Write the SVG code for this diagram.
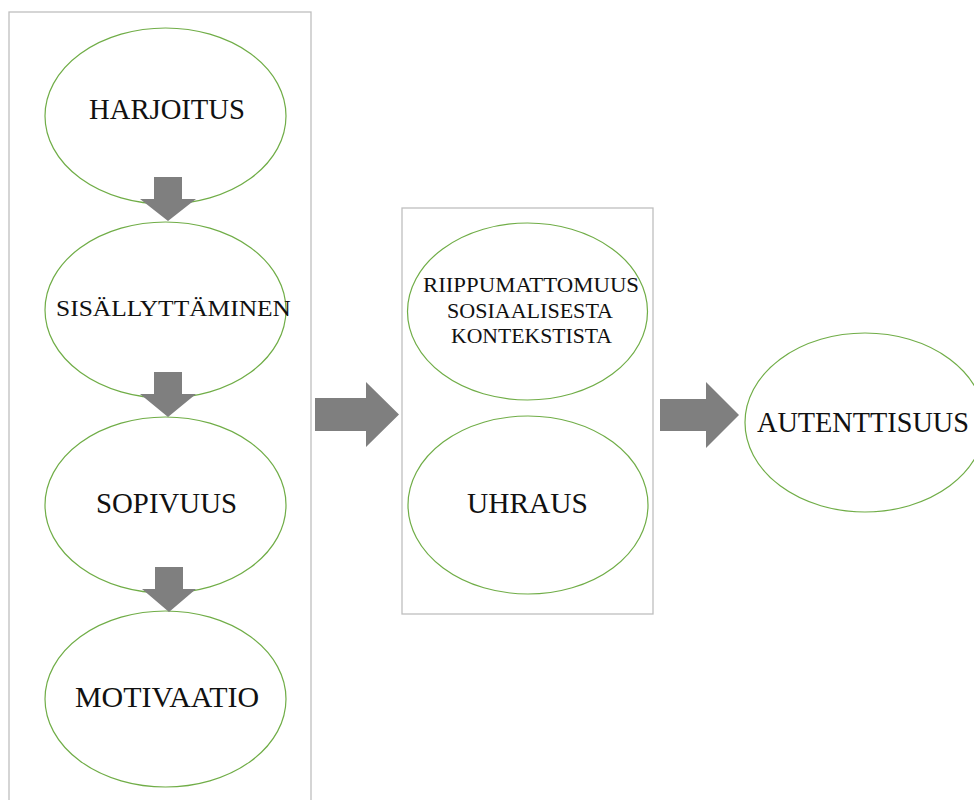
<svg xmlns="http://www.w3.org/2000/svg" width="974" height="800" viewBox="0 0 974 800">
<style>
.box{fill:none;stroke:#BFBFBF;stroke-width:1.3}
.el{fill:#FFFFFF;stroke:#70AD47;stroke-width:1.2}
.ar{fill:#7F7F7F}
.t{font-family:"Liberation Serif","Times New Roman",serif;fill:#111;}
.big{font-size:29.5px}
.mid{font-size:24px}
.sm{font-size:22px}
</style>
<rect width="974" height="800" fill="#FFFFFF"/>
<rect class="box" x="9" y="12" width="302" height="800"/>
<rect class="box" x="402" y="208" width="251" height="406"/>
<g id="n-harjoitus">
<ellipse class="el" cx="165.5" cy="116" rx="120.5" ry="88"/>
<text class="t big" x="89" y="119" textLength="156" lengthAdjust="spacingAndGlyphs">HARJOITUS</text>
</g>
<g id="n-sisallyttaminen">
<ellipse class="el" cx="165.5" cy="310" rx="120.5" ry="88"/>
<text class="t mid" x="56" y="316" textLength="235" lengthAdjust="spacingAndGlyphs">SISÄLLYTTÄMINEN</text>
</g>
<g id="n-sopivuus">
<ellipse class="el" cx="165.5" cy="505" rx="120.5" ry="88"/>
<text class="t big" x="96" y="513" textLength="141" lengthAdjust="spacingAndGlyphs">SOPIVUUS</text>
</g>
<g id="n-motivaatio">
<ellipse class="el" cx="165.5" cy="699" rx="120.5" ry="88"/>
<text class="t big" x="75" y="707" textLength="184" lengthAdjust="spacingAndGlyphs">MOTIVAATIO</text>
</g>
<g id="n-riippumattomuus">
<ellipse class="el" cx="527.5" cy="311.5" rx="120" ry="88.5"/>
<text class="t sm" x="423" y="292" textLength="216" lengthAdjust="spacingAndGlyphs">RIIPPUMATTOMUUS</text>
<text class="t sm" x="447" y="318" textLength="166" lengthAdjust="spacingAndGlyphs">SOSIAALISESTA</text>
<text class="t sm" x="451" y="343" textLength="161" lengthAdjust="spacingAndGlyphs">KONTEKSTISTA</text>
</g>
<g id="n-uhraus">
<ellipse class="el" cx="528" cy="505" rx="120" ry="89"/>
<text class="t big" x="467" y="513" textLength="121" lengthAdjust="spacingAndGlyphs">UHRAUS</text>
</g>
<g id="n-autenttisuus">
<ellipse class="el" cx="865" cy="422.5" rx="120" ry="89.5"/>
<text class="t big" x="757" y="432" textLength="212" lengthAdjust="spacingAndGlyphs">AUTENTTISUUS</text>
</g>
<g id="connectors">
<polygon class="ar" points="154,177 182,177 182,199 196,199 168,221 140,199 154,199"/>
<polygon class="ar" points="154,372 182,372 182,394 196,394 168,417 140,394 154,394"/>
<polygon class="ar" points="155,567 183,567 183,589 196,589 169,612 142,589 155,589"/>
<polygon class="ar" points="315,398 366,398 366,382 399,414.5 366,447 366,431 315,431"/>
<polygon class="ar" points="660,399 706,399 706,382 739,415 706,448 706,431 660,431"/>
</g>
</svg>
